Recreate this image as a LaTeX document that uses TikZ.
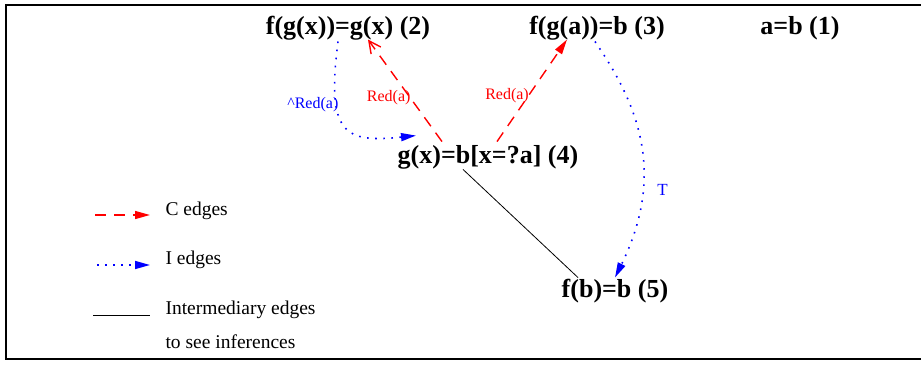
\documentclass[tikz,border=0pt]{standalone}
\usepackage{fontspec}
\setmainfont{Liberation Serif}
\usetikzlibrary{arrows.meta}

\definecolor{cred}{RGB}{255,0,0}
\definecolor{iblue}{RGB}{0,0,255}

\tikzset{
  eqn/.style={font=\fontsize{26}{30}\selectfont\bfseries},
  lbl/.style={font=\fontsize{16}{18}\selectfont,inner sep=1pt},
  legtext/.style={font=\fontsize{19.5}{22}\selectfont,anchor=west},
  cedge/.style={cred,line width=1.4pt,dash pattern=on 11pt off 8pt,-{Triangle[length=15pt,width=8pt]}},
  iedge/.style={iblue,line width=1.6pt,dash pattern=on 1.6pt off 6.5pt,-{Triangle[length=15pt,width=8pt]}},
  medge/.style={black,line width=0.8pt}
}

\begin{document}
\begin{tikzpicture}[x=1pt,y=-1pt]
        \useasboundingbox (0,0) rectangle (921,365);
        \draw[line width=1.5pt] (925,5)--(6,5)--(6,359)--(925,359);

        \node[eqn] (n2) at (348,28) {f(g(x))=g(x) (2)};
        \node[eqn] (n3) at (597,28) {f(g(a))=b (3)};
        \node[eqn] (n1) at (800,28) {a=b (1)};
        \node[eqn] (n4) at (488,157) {g(x)=b[x=?a] (4)};
        \node[eqn] (n5) at (615,291) {f(b)=b (5)};

        \draw[cedge,-{Straight Barb[length=12pt,width=12pt]}] ([xshift=-46pt]n4.north)
          -- node[lbl,text=cred,pos=0.43,anchor=east,xshift=2pt] {Red(a)} ([xshift=20pt,yshift=4pt]n2.south);
        \draw[cedge] ([xshift=9pt]n4.north)
          -- node[lbl,text=cred,pos=0.45,anchor=east,xshift=2pt] {Red(a)} ([xshift=-30pt,yshift=4pt]n3.south);
        \draw[iedge] ([xshift=-10pt,yshift=2pt]n2.south)
          .. controls (326,135) and (345,143) .. node[lbl,text=iblue,pos=0.3,anchor=east,xshift=4pt] {\^{}Red(a)} ([xshift=-72pt,yshift=6pt]n4.north);
        \draw[iedge] ([xshift=-2pt,yshift=2pt]n3.south)
          .. controls (635,100) and (668,170) .. node[lbl,text=iblue,pos=0.7,anchor=west,xshift=14pt,font=\fontsize{17}{19}\selectfont] {T} ([yshift=-2pt]n5.north);
        \draw[medge] ([xshift=-25pt,yshift=3pt]n4.south)--([xshift=-37pt,yshift=-2pt]n5.north);

        % legend
        \coordinate (c1) at (95,215);
        \coordinate (c2) at (150,215);
        \coordinate (i1) at (97,265);
        \coordinate (i2) at (150,265);
        \coordinate (m1) at (93,315);
        \coordinate (m2) at (150,315);
        \draw[cedge] (c1)--(c2);
        \draw[iedge] (i1)--(i2);
        \draw[medge] (m1)--(m2);
        \node[legtext] (lc) at (162,211) {C edges};
        \node[legtext] (li) at (162,260) {I edges};
        \node[legtext] (lm) at (162,310) {Intermediary edges};
        \node[legtext] (ls) at (162,342) {to see inferences};
      \end{tikzpicture}
\end{document}
